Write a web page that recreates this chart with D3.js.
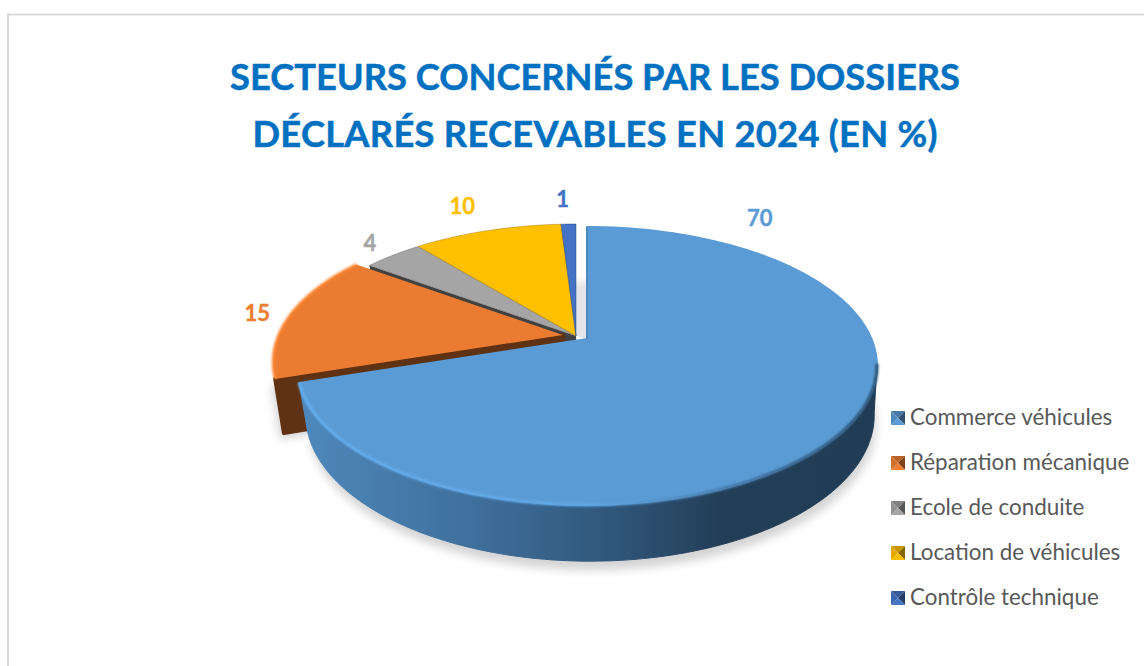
<html>

<head>
    <script src="https://cdnjs.cloudflare.com/ajax/libs/d3/7.8.5/d3.min.js"></script>
    <style>
        html, body { margin: 0; background: #fff; }
        svg { display: block; }
        text { font-family: Lato, "Open Sans", sans-serif; }
    </style>
</head>

<body>
    <script>
        var categories = ['Commerce véhicules', 'Réparation mécanique', 'Ecole de conduite', 'Location de véhicules', 'Contrôle technique'];
        var values = [70, 15, 4, 10, 1];
        var colors = ['#5b9bd5', '#ed7d31', '#a5a5a5', '#ffc000', '#4472c4'];
        var titleLines = ['SECTEURS CONCERNÉS PAR LES DOSSIERS', 'DÉCLARÉS RECEVABLES EN 2024 (EN %)'];

        var w = 1144, h = 666;

        // perspective of the disc, measured on the blue slice
        var a = 284.5, b = 133.7, p = 0.194;
        // bottom face: fitted on the silhouette of the wall
        var depth = 48, bottomX = 0.98, bottomY = 1.05, bottomShift = 3;

        // where each slice sits once exploded
        var centers = [[587, 339], [563, 335], [576, 336], [576, 336], [576, 336]];
        // label offset from the outer middle of the slice
        var labelOffset = [[-87, -210], [-33, -2], [-23, -12], [-25, -25], [-6, -25]];
        // Lato is not Calibri, so force the measured width of each title line
        var titleWidth = [730, 685];

        var svg = d3.select('body').append('svg').attr('width', w).attr('height', h);
        var defs = svg.append('defs');

        defs.append('filter').attr('id', 'soft').attr('x', '-10%').attr('y', '-10%').attr('width', '120%').attr('height', '120%')
            .append('feGaussianBlur').attr('stdDeviation', 5);
        defs.append('filter').attr('id', 'rimblur').attr('x', '-5%').attr('y', '-5%').attr('width', '110%').attr('height', '110%')
            .append('feGaussianBlur').attr('stdDeviation', 0.9);

        function hGradient(id, x1, x2, stops) {
            var g = defs.append('linearGradient').attr('id', id).attr('gradientUnits', 'userSpaceOnUse')
                .attr('x1', x1).attr('x2', x2).attr('y1', 0).attr('y2', 0);
            stops.forEach((s) => { g.append('stop').attr('offset', s[0]).attr('stop-color', s[1]); });
        }
        hGradient('wall', 300, 880, [[0, '#4e88bc'], [0.3, '#3f6f9c'], [0.55, '#2f5578'], [0.72, '#233f58'], [1, '#213c54']]);
        hGradient('rim', 300, 880, [[0, '#64aef0'], [0.5, '#62a9ea'], [0.68, '#4d86b8'], [0.85, '#36618a'], [1, '#2b4e6e']]);
        var gap = defs.append('linearGradient').attr('id', 'gap').attr('x1', 0).attr('x2', 0).attr('y1', 0).attr('y2', 1);
        gap.append('stop').attr('offset', 0).attr('stop-color', '#fff');
        gap.append('stop').attr('offset', 0.45).attr('stop-color', '#fff');
        gap.append('stop').attr('offset', 0.55).attr('stop-color', '#e4e4e8');
        gap.append('stop').attr('offset', 1).attr('stop-color', '#e4e4e8');

        svg.append('rect').attr('x', 8).attr('y', 14.5).attr('width', w + 20).attr('height', h + 20)
            .attr('fill', '#fff').attr('stroke', '#d9d9d9').attr('stroke-width', 2);

        svg.selectAll('text.title').data(titleLines).enter().append('text')
            .attr('class', 'title')
            .attr('x', 595)
            .attr('y', (d, i) => 90 + i * 57)
            .attr('text-anchor', 'middle')
            .attr('fill', '#0070c0')
            .attr('stroke', '#0070c0')
            .attr('stroke-width', 0.5)
            .attr('font-weight', 700)
            .attr('font-size', 36.3)
            .attr('textLength', (d, i) => titleWidth[i])
            .text((d) => d);

        var pie = d3.pie().value((d) => d).sort(null);
        var slices = pie(values);

        // angle on the disc -> screen, level 0 = top face, level 1 = bottom face
        function project(i, angle, radius, level) {
            var u = Math.sin(angle) * radius, v = Math.cos(angle) * radius;
            var k = 1 / (1 + p * v);
            if (level) {
                return [centers[i][0] + bottomShift + bottomX * a * u * k, centers[i][1] + depth - bottomY * b * v * k];
            }
            return [centers[i][0] + a * u * k, centers[i][1] - b * v * k];
        }

        var line = d3.line();

        function arcPoints(i, from, to, level) {
            return d3.range(0, 121).map((n) => project(i, from + (to - from) * n / 120, 1, level));
        }

        function facePath(i, d, level) {
            return line([project(i, 0, 0, level)].concat(arcPoints(i, d.startAngle, d.endAngle, level))) + 'Z';
        }

        // extra pushes the lower edge of the cut further down
        function cutFace(i, angle, extra) {
            var low = [project(i, angle, 1, 1), project(i, 0, 0, 1)].map((q) => [q[0], q[1] + (extra || 0)]);
            return line([project(i, 0, 0, 0), project(i, angle, 1, 0)].concat(low)) + 'Z';
        }

        function wallPath(i, from, to) {
            return line(arcPoints(i, from, to, 0).concat(arcPoints(i, to, from, 1))) + 'Z';
        }

        // ground shadow
        svg.append('path').attr('d', facePath(0, slices[0], 1))
            .attr('transform', 'translate(2,9)').attr('fill', '#000').attr('opacity', 0.17).attr('filter', 'url(#soft)');
        svg.append('path').attr('d', cutFace(1, slices[1].startAngle, 4))
            .attr('transform', 'translate(-4,6)').attr('fill', '#000').attr('opacity', 0.17).attr('filter', 'url(#soft)');

        // shade showing through the gap behind the blue slice
        svg.append('path').attr('d', line([project(4, slices[4].endAngle, 1, 0), project(0, 0, 1, 0), project(0, 0, 0, 0), project(4, slices[4].endAngle, 0, 0)]) + 'Z')
            .attr('fill', 'url(#gap)');

        // back slices first, front ones over them; only the grey one shows its cut
        svg.append('path').attr('d', cutFace(2, slices[2].startAngle)).attr('fill', d3.color(colors[2]).darker(2.6));
        [2, 3, 4].forEach((i) => {
            var d = slices[i];
            svg.append('path').attr('class', 'slice').attr('d', facePath(i, d, 0)).attr('fill', colors[i])
                .attr('stroke', d3.color(colors[i]).darker(1.2)).attr('stroke-width', 0.5);
        });

        // orange
        svg.append('path').attr('d', cutFace(1, slices[1].startAngle, 4)).attr('fill', '#5f3213')
            .attr('stroke', '#5f3213').attr('stroke-width', 4).attr('stroke-linejoin', 'round');
        svg.append('path').attr('class', 'slice').attr('d', facePath(1, slices[1], 0)).attr('fill', '#ea7b30');
        svg.append('path').attr('d', line(arcPoints(1, slices[1].startAngle, slices[1].endAngle, 0)))
            .attr('fill', 'none').attr('stroke', '#ff8a38').attr('stroke-width', 2.5).attr('filter', 'url(#rimblur)');

        // blue, wall first then the top with its bright rim
        var blue = slices[0];
        var rimStart = 1.75;
        svg.append('path').attr('d', wallPath(0, rimStart, blue.endAngle))
            .attr('fill', 'url(#wall)').attr('stroke', 'url(#wall)').attr('stroke-width', 1);
        svg.append('path').attr('class', 'slice').attr('d', facePath(0, blue, 0)).attr('fill', colors[0])
            .attr('stroke', colors[0]).attr('stroke-width', 2).attr('stroke-linejoin', 'round');
        svg.append('path').attr('d', line(arcPoints(0, rimStart, blue.endAngle, 0)))
            .attr('fill', 'none').attr('stroke', 'url(#rim)').attr('stroke-width', 3).attr('filter', 'url(#rimblur)');
        svg.append('path').attr('d', line([project(0, 0, 0, 0), project(0, 0, 1, 0)]))
            .attr('stroke', '#3c6e9c').attr('stroke-width', 0.8);

        // data labels
        svg.selectAll('text.value').data(slices).enter().append('text')
            .attr('class', 'value')
            .attr('x', (d, i) => project(i, (d.startAngle + d.endAngle) / 2, 1, 0)[0] + labelOffset[i][0])
            .attr('y', (d, i) => project(i, (d.startAngle + d.endAngle) / 2, 1, 0)[1] + labelOffset[i][1] + 8)
            .attr('text-anchor', 'middle')
            .attr('font-weight', 700)
            .attr('font-size', 22)
            .attr('fill', (d, i) => colors[i])
            .attr('stroke', (d, i) => colors[i])
            .attr('stroke-width', 0.4)
            .text((d) => d.value);

        // legend
        var legendY = d3.scalePoint().domain(categories).range([418, 598]);
        var legend = svg.selectAll('g.legend').data(categories).enter().append('g')
            .attr('class', 'legend')
            .attr('transform', (d) => 'translate(891,' + legendY(d) + ')');

        var m = 7;
        var sides = [
            { pts: [[-m, -m], [m, -m], [0, 0]], f: (c) => c.darker(0.7) },
            { pts: [[m, -m], [m, m], [0, 0]], f: (c) => c.darker(1.8) },
            { pts: [[m, m], [-m, m], [0, 0]], f: (c) => c },
            { pts: [[-m, m], [-m, -m], [0, 0]], f: (c) => c.darker(0.35) }
        ];
        legend.each(function (d, i) {
            var g = d3.select(this);
            sides.forEach((s) => {
                g.append('path')
                    .attr('transform', 'translate(' + m + ',0)')
                    .attr('d', line(s.pts) + 'Z')
                    .attr('fill', s.f(d3.color(colors[i])));
            });
        });

        legend.append('text')
            .attr('x', 19)
            .attr('y', 7)
            .attr('font-size', 22.4)
            .attr('fill', '#595959')
            .text((d) => d);
    </script>
</body>

</html>
